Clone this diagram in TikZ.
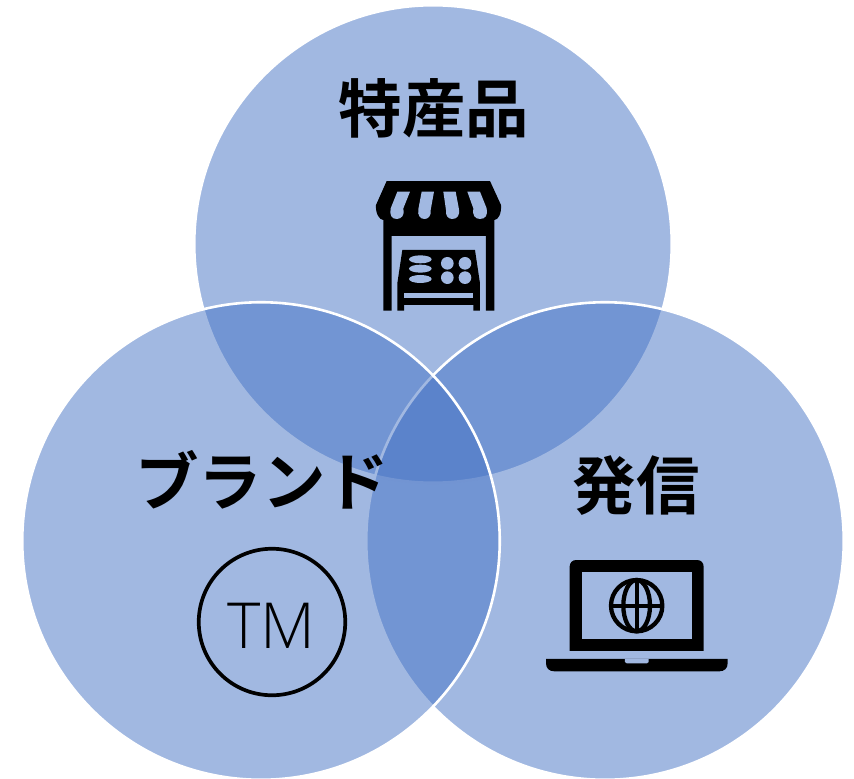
\documentclass[tikz,border=0pt]{standalone}
\usepackage{fontspec}
\newfontfamily\jpfont{Noto Sans CJK JP Bold}
\newfontfamily\tmfont{Open Sans Light}
\definecolor{vennblue}{HTML}{4472C4}
\definecolor{iconbg}{HTML}{A1B8E1}
\tikzset{
  venn/.style={circle,minimum size=477.5pt,inner sep=0pt,fill=vennblue,fill opacity=.5,draw=white,draw opacity=1,line width=2.6pt},
  heading/.style={font=\jpfont\fontsize{63.5pt}{63.5pt}\selectfont,text=black,inner sep=0pt},
  cut/.style={fill=iconbg,draw=none},
  ink/.style={fill=black,draw=none},
}
\begin{document}
\begin{tikzpicture}[x=1pt,y=-1pt]
\useasboundingbox (0,0) rectangle (854,779);
\node[venn] (top) at (433,244) {};
\node[venn] (right) at (605,541) {};
\node[venn] (left) at (261,541) {};
% shop icon
\begin{scope}[shift={(360,170)},x=.3333pt,y=-.3333pt]
\fill[ink] (80,33) -- (390,33) -- (423,105) .. controls (425,130) and (415,150) .. (403,150) -- (403,422) -- (378,422) -- (378,198) -- (95,198) -- (95,422) -- (70,422) -- (70,150) .. controls (58,150) and (46,130) .. (48,105) -- cycle;
\fill[cut] (112,65) -- (150,65) -- (130,115) .. controls (135,135) and (125,147) .. (110,147) .. controls (95,147) and (88,135) .. (92,115) -- cycle;
\fill[cut] (185,65) -- (222,65) -- (212,120) .. controls (214,138) and (205,147) .. (193,147) .. controls (180,147) and (172,135) .. (175,118) -- cycle;
\fill[cut] (250,65) -- (287,65) -- (297,118) .. controls (300,135) and (292,147) .. (277,147) .. controls (265,147) and (256,138) .. (258,120) -- cycle;
\fill[cut] (322,65) -- (360,65) -- (380,115) .. controls (384,135) and (377,147) .. (360,147) .. controls (345,147) and (336,135) .. (340,115) -- cycle;
\fill[ink] (127,240) -- (345,240) -- (360,340) -- (360,422) -- (340,422) -- (340,405) -- (132,405) -- (132,422) -- (112,422) -- (112,340) -- cycle;
\fill[cut] (132,370) rectangle (340,385);
\foreach \yy in {268,296,327} \fill[cut] (181,\yy) ellipse [x radius=34,y radius=12];
\foreach \xx/\yy in {262/280,315/280,262/323,315/323} \fill[cut] (\xx,\yy) circle [radius=19];
\end{scope}
% laptop icon
\begin{scope}[shift={(535,550)},x=.3333pt,y=-.3333pt]
\fill[ink] (104,303) -- (104,50) .. controls (104,38) and (112,30) .. (124,30) -- (486,30) .. controls (498,30) and (506,38) .. (506,50) -- (506,303) -- cycle;
\fill[cut] (140,67) rectangle (472,268);
\fill[ink] (33,327) -- (578,327) -- (578,340) .. controls (578,355) and (568,364) .. (553,364) -- (58,364) .. controls (43,364) and (33,355) .. (33,340) -- cycle;
\fill[cut] (270,327) -- (341,327) -- (341,336) -- (336,340) -- (275,340) -- (270,336) -- cycle;
\begin{scope}[line width=4.3pt,draw=black]
\draw (305,167) circle [radius=77];
\draw (305,167) ellipse [x radius=40,y radius=77];
\draw (305,90) -- (305,244);
\draw (228,167) -- (382,167);
\end{scope}
\end{scope}
\node[heading] (t1) at (434,108) {特産品};
\node[heading] (t2) at (262,480) {ブランド};
\node[heading] (t3) at (636,486) {発信};
\node[circle,draw=black,line width=3.7pt,minimum size=146.5pt,inner sep=0pt] (tm) at (272,622) {};
\node[inner sep=0pt,font=\tmfont\fontsize{63.5pt}{63.5pt}\selectfont] (tmtext) at (271.5,626) {TM};
\end{tikzpicture}
\end{document}
